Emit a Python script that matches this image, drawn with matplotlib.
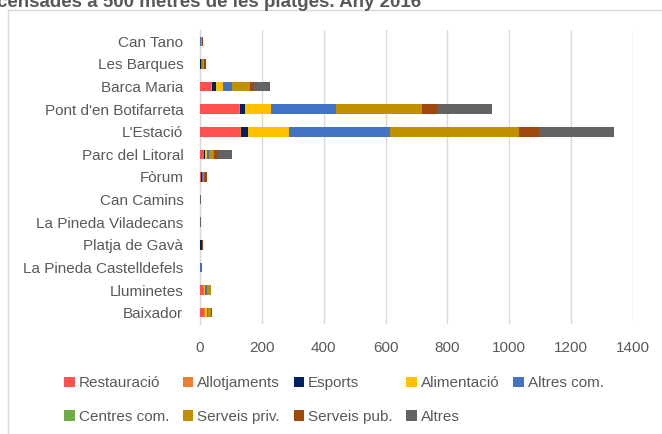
import matplotlib
matplotlib.use("Agg")
import matplotlib.pyplot as plt
from matplotlib.patches import Rectangle
import numpy as np

plt.rcParams['font.family'] = ['Liberation Sans', 'DejaVu Sans']

categories = ["Can Tano", "Les Barques", "Barca Maria", "Pont d'en Botifarreta",
              "L'Estació", "Parc del Litoral", "Fòrum", "Can Camins",
              "La Pineda Viladecans", "Platja de Gavà", "La Pineda Castelldefels",
              "Lluminetes", "Baixador"]

series_names = ["Restauració", "Allotjaments", "Esports", "Alimentació", "Altres com.",
                "Centres com.", "Serveis priv.", "Serveis pub.", "Altres"]

restauracio   = [0, 0, 36, 127, 130, 13, 2, 0, 0, 1, 1, 10, 13]
allotjaments  = [0, 0, 2, 2, 2, 1, 0, 0, 0, 0, 0, 2, 3]
esports       = [0, 4, 13, 16, 24, 3, 6, 0, 0, 6, 0, 1, 0]
alimentacio   = [0, 0, 23, 84, 133, 5, 0, 0, 0, 0, 0, 3, 6]
altres_com    = [3, 2, 29, 210, 325, 6, 2, 1, 1, 0, 3, 6, 5]
centres_com   = [0, 0, 0, 0, 0, 0, 0, 0, 0, 0, 0, 0, 0]
serveis_priv  = [4, 8, 59, 279, 416, 18, 3, 0, 0, 0, 0, 12, 10]
serveis_pub   = [4, 4, 14, 48, 66, 9, 11, 0, 0, 2, 0, 2, 2]
altres        = [0, 0, 50, 177, 242, 50, 0, 1, 1, 0, 4, 0, 0]

series = [restauracio, allotjaments, esports, alimentacio, altres_com,
          centres_com, serveis_priv, serveis_pub, altres]
colors = ["#FF5050", "#ED7D31", "#002060", "#FFC000", "#4472C4",
          "#70AD47", "#BF9000", "#9E480E", "#636363"]

xticks = [0, 200, 400, 600, 800, 1000, 1200, 1400]

fig = plt.figure(figsize=(6.62, 4.34), dpi=100)
ax = fig.add_axes([200/662, 1 - 324/434, 433/662, 294/434])

y = np.arange(len(categories))
left = np.zeros(len(categories))
handles = []
for name, vals, c in zip(series_names, series, colors):
    vals = np.array(vals, dtype=float)
    h = ax.barh(y, vals, left=left, height=0.42, color=c, label=name, zorder=3)
    handles.append(h)
    left += vals

ax.set_ylim(len(categories) - 0.5, -0.5)
ax.set_xlim(0, 1400)
ax.set_xticks(xticks)
ax.set_xticklabels([str(t) for t in xticks])
ax.set_yticks(y)
ax.set_yticklabels(categories)
ax.tick_params(axis='both', length=0, labelsize=11, labelcolor='#595959')
ax.tick_params(axis='x', pad=12)
ax.tick_params(axis='y', pad=12)
ax.grid(axis='x', color='#D9D9D9', linewidth=1, zorder=0)
for s in ['top', 'right', 'bottom']:
    ax.spines[s].set_visible(False)
ax.spines['left'].set_color('#D9D9D9')
ax.spines['left'].set_linewidth(1)

# legend, row-major ordering for 2 rows x 5 columns
order = [0, 5, 1, 6, 2, 7, 3, 8, 4]
leg = fig.legend([handles[i] for i in order], [series_names[i] for i in order],
                 ncol=5, loc='center left', bbox_to_anchor=(64/662, 1 - 400/434),
                 frameon=False, fontsize=11, handlelength=0.7, handleheight=0.7,
                 handletextpad=0.25, columnspacing=0.9, labelspacing=1.25,
                 borderaxespad=0, borderpad=0)
for t in leg.get_texts():
    t.set_color('#595959')

# chart border
fig.patches.append(Rectangle((8/662, -0.1), 1.2, 1 - 10/434 + 0.1,
                             transform=fig.transFigure, fill=False,
                             edgecolor='#D9D9D9', linewidth=1))

fig.text(-3/662, 1 - 7/434, "censades a 500 metres de les platges. Any 2016",
         ha='left', va='baseline', fontsize=13.5, fontweight='bold', color='#595959')

fig.savefig("out.png", dpi=100)
